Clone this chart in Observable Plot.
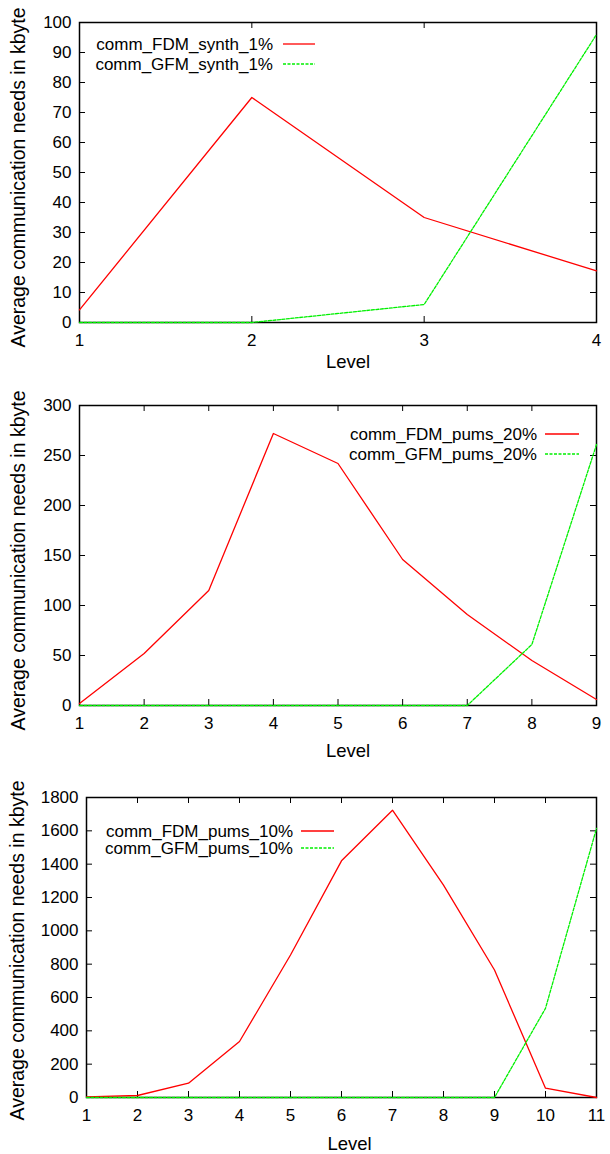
<!DOCTYPE html>
<html><head><meta charset="utf-8">
<script src="https://cdn.jsdelivr.net/npm/d3@7"></script>
<script src="https://cdn.jsdelivr.net/npm/@observablehq/plot@0.6"></script>
<style>body{margin:0;background:#fff} svg{display:block}</style>
</head><body><div id="c"></div>
<script>
// Panel 1 data
const levels1 = [1, 2, 3, 4];
const fdmSynth1 = [4.2, 75, 35, 17.2];
const gfmSynth1 = [0, 0, 6, 96];
const yTicks1 = [0, 10, 20, 30, 40, 50, 60, 70, 80, 90, 100];
const names1 = ["comm_FDM_synth_1%", "comm_GFM_synth_1%"];

// Panel 2 data
const levels2 = [1, 2, 3, 4, 5, 6, 7, 8, 9];
const fdmPums20 = [2, 52, 115, 272, 242, 146, 91, 45, 6];
const gfmPums20 = [0, 0, 0, 0, 0, 0, 0, 61, 261];
const yTicks2 = [0, 50, 100, 150, 200, 250, 300];
const names2 = ["comm_FDM_pums_20%", "comm_GFM_pums_20%"];

// Panel 3 data
const levels3 = [1, 2, 3, 4, 5, 6, 7, 8, 9, 10, 11];
const fdmPums10 = [4, 12, 86, 336, 855, 1420, 1724, 1274, 765, 56, 0];
const gfmPums10 = [0, 0, 0, 0, 0, 0, 0, 0, 0, 535, 1614];
const yTicks3 = [0, 200, 400, 600, 800, 1000, 1200, 1400, 1600, 1800];
const names3 = ["comm_FDM_pums_10%", "comm_GFM_pums_10%"];

const xLabel = "Level";
const yLabel = "Average communication needs in kbyte";
const FONT = "'Liberation Sans', Arial, Helvetica, sans-serif";
const RED = "#ff0000";
const GREEN = "#00f000";

function panel(cfg) {
  const W = 610;
  const pw = W - cfg.ml - cfg.mr;
  const ph = cfg.h - cfg.mt - cfg.mb;
  const fdm = cfg.levels.map((l, i) => ({level: l, value: cfg.fdm[i]}));
  const gfm = cfg.levels.map((l, i) => ({level: l, value: cfg.gfm[i]}));
  const tk = 6;
  const fmt = d => String(d);
  const chart = Plot.plot({
    width: W, height: cfg.h,
    marginTop: cfg.mt, marginBottom: cfg.mb, marginLeft: cfg.ml, marginRight: cfg.mr,
    style: {fontFamily: FONT, fontSize: "17px", color: "#000", background: "#fff", overflow: "visible"},
    x: {domain: [cfg.levels[0], cfg.levels[cfg.levels.length - 1]]},
    y: {domain: [0, cfg.yTicks[cfg.yTicks.length - 1]]},
    marks: [
      Plot.tickY(cfg.yTicks, {y: d => d, insetRight: pw - tk, stroke: "#000"}),
      Plot.tickY(cfg.yTicks, {y: d => d, insetLeft: pw - tk, stroke: "#000"}),
      Plot.tickX(cfg.levels, {x: d => d, insetTop: ph - tk, stroke: "#000"}),
      Plot.tickX(cfg.levels, {x: d => d, insetBottom: ph - tk, stroke: "#000"}),
      Plot.axisX(cfg.levels, {tickSize: 0, tickPadding: 11, label: null, fontSize: 17, tickFormat: fmt}),
      Plot.axisY(cfg.yTicks, {tickSize: 0, tickPadding: 8, label: null, fontSize: 17, tickFormat: fmt}),
      Plot.frame({stroke: "#000", strokeWidth: 1.5}),
      Plot.line(fdm, {x: "level", y: "value", stroke: RED, strokeWidth: 1.3}),
      Plot.line(gfm, {x: "level", y: "value", stroke: GREEN, strokeWidth: 1.3, strokeDasharray: "3,1.5"}),
      Plot.text([xLabel], {frameAnchor: "bottom", lineAnchor: "middle", textAnchor: "middle", dx: cfg.lx, dy: cfg.ly, fontSize: 18.5}),
      Plot.text([yLabel], {frameAnchor: "left", rotate: -90, textAnchor: "middle", lineAnchor: "middle", dx: cfg.yx, dy: cfg.yy, fontSize: 19.5})
    ]
  });
  const svg = d3.select(chart.tagName.toLowerCase() === "svg" ? chart : chart.querySelector("svg"));
  const g = svg.append("g").attr("font-family", FONT).attr("font-size", 17);
  cfg.names.forEach((n, i) => {
    const y = cfg.legY[i];
    g.append("text").attr("x", cfg.legTextEnd).attr("y", y).attr("dy", "0.35em")
      .attr("text-anchor", "end").attr("fill", "#000").text(n);
    g.append("line").attr("x1", cfg.legLine[0]).attr("x2", cfg.legLine[1])
      .attr("y1", y).attr("y2", y)
      .attr("stroke", i === 0 ? RED : GREEN).attr("stroke-width", 1.3)
      .attr("stroke-dasharray", i === 0 ? null : "3,1.5");
  });
  return chart;
}

const c = document.getElementById("c");
c.append(panel({
  levels: levels1, fdm: fdmSynth1, gfm: gfmSynth1, yTicks: yTicks1, names: names1,
  h: 384, mt: 22, mb: 62, ml: 79, mr: 14,
  lx: 10, ly: 40, yx: -61, yy: 5,
  legTextEnd: 273, legLine: [283, 315], legY: [44, 64]
}));
c.append(panel({
  levels: levels2, fdm: fdmPums20, gfm: gfmPums20, yTicks: yTicks2, names: names2,
  h: 384, mt: 21, mb: 63, ml: 79, mr: 14,
  lx: 10, ly: 46, yx: -61, yy: 5,
  legTextEnd: 537, legLine: [545, 579], legY: [50, 70]
}));
c.append(panel({
  levels: levels3, fdm: fdmPums10, gfm: gfmPums10, yTicks: yTicks3, names: names3,
  h: 386, mt: 29, mb: 57, ml: 86, mr: 14,
  lx: 8, ly: 47, yx: -68.5, yy: 3,
  legTextEnd: 293, legLine: [301, 334], legY: [63, 80]
}));
</script>
</body></html>
